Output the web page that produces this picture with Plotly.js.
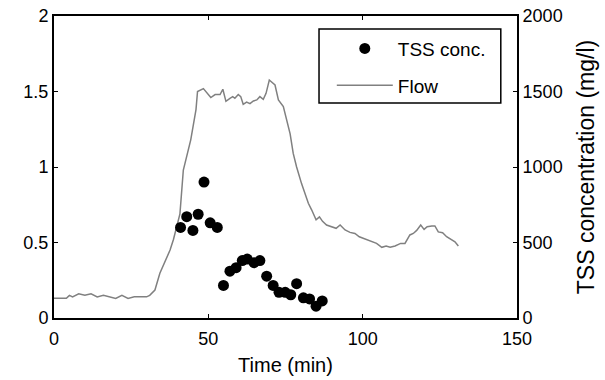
<!DOCTYPE html>
<html>
<head>
<meta charset="utf-8">
<script src="https://cdn.plot.ly/plotly-3.0.1.min.js"></script>
<style>body{margin:0;padding:0;background:#fff}#chart{width:605px;height:380px}</style>
</head>
<body>
<div id="chart"></div>
<script>
// Flow (left axis)
var flowTime = [0, 2, 4, 5, 6, 8, 10, 12, 14, 16, 18, 20, 22, 24, 26, 28, 30, 31, 32.7, 34.3, 36, 37.6, 38.7, 40.8, 41.9, 44.3, 46, 46.5, 48.4, 50.8, 52.2, 53.8, 54.7, 55.7, 57.0, 57.9, 58.6, 59.7, 60.5, 61.3, 62.4, 63.5, 64.6, 65.7, 66.7, 67.8, 68.7, 69.75, 71.6, 72.7, 74.3, 75.4, 76.5, 77.5, 78.6, 80.2, 81.3, 82.4, 83.5, 84.9, 86.0, 87.0, 88.3, 90.0, 91.4, 92.7, 94.3, 95.9, 97.5, 98.9, 100.2, 101.5, 102.9, 104.5, 106.2, 107.6, 108.9, 110.5, 112.3, 113.7, 115.3, 116.4, 117.5, 118.8, 119.9, 120.9, 122.4, 123.4, 124.5, 125.9, 127.2, 128.8, 129.9, 131.0];
var flowValue = [0.13, 0.13, 0.13, 0.15, 0.14, 0.16, 0.15, 0.16, 0.14, 0.15, 0.14, 0.13, 0.15, 0.13, 0.14, 0.14, 0.14, 0.15, 0.185, 0.296, 0.37, 0.45, 0.52, 0.69, 0.98, 1.18, 1.38, 1.5, 1.519, 1.46, 1.48, 1.48, 1.515, 1.435, 1.455, 1.466, 1.455, 1.48, 1.466, 1.415, 1.43, 1.42, 1.437, 1.444, 1.466, 1.448, 1.488, 1.576, 1.543, 1.444, 1.40, 1.31, 1.22, 1.09, 1.0, 0.89, 0.826, 0.76, 0.715, 0.65, 0.67, 0.64, 0.616, 0.605, 0.594, 0.616, 0.583, 0.567, 0.56, 0.538, 0.528, 0.516, 0.505, 0.494, 0.468, 0.477, 0.468, 0.477, 0.494, 0.494, 0.55, 0.56, 0.58, 0.616, 0.587, 0.605, 0.61, 0.61, 0.57, 0.565, 0.538, 0.516, 0.505, 0.477];

// TSS concentration (right axis, mg/l)
var tssTime = [41, 43, 45, 46.7, 48.6, 50.6, 52.9, 54.9, 57, 59, 61, 62.6, 64.8, 66.7, 68.9, 71, 72.9, 74.9, 76.7, 78.6, 80.8, 82.8, 84.9, 86.9];
var tssValue = [600, 671, 580, 687, 900, 630, 600, 216, 310, 333, 380, 390, 366, 380, 277, 216, 170, 170, 154, 227, 134, 126, 78, 113];

var leftTicks = [0, 0.5, 1, 1.5, 2];
var leftTickText = ['0', '0.5', '1', '1.5', '2'];
var rightTicks = [0, 500, 1000, 1500, 2000];
var xTicks = [0, 50, 100, 150];

var fam = 'Liberation Sans, Arial, sans-serif';
var tickFont = {family: fam, size: 18, color: '#000'};
var titleFont = {family: fam, size: 20, color: '#000'};

var traces = [
  {x: flowTime, y: flowValue, type: 'scatter', mode: 'lines', name: 'Flow',
   line: {color: '#808080', width: 1.5}, yaxis: 'y', legendrank: 2, legendgroup: 'b'},
  {x: tssTime, y: tssValue, type: 'scatter', mode: 'markers', name: 'TSS conc.',
   marker: {color: '#000', size: 11}, yaxis: 'y2', legendrank: 1, legendgroup: 'a'}
];

var layout = {
  width: 605, height: 380,
  margin: {l: 54, r: 88, t: 16, b: 62},
  paper_bgcolor: '#fff', plot_bgcolor: '#fff',
  font: tickFont,
  showlegend: true,
  legend: {x: 0.60, y: 0.955, xanchor: 'left', yanchor: 'top',
           borderwidth: 0, bgcolor: 'rgba(0,0,0,0)',
           font: {family: fam, size: 19, color: '#000'}, itemwidth: 56,
           tracegroupgap: 9},
  shapes: [{type: 'rect', xref: 'paper', yref: 'paper', x0: 0.5724, x1: 0.965, y0: 0.712, y1: 0.957,
            line: {color: '#000', width: 1.5}, layer: 'above'}],
  xaxis: {range: [0, 150], tickvals: xTicks, ticks: 'inside', ticklen: 4, tickcolor: '#000',
          showline: true, linecolor: '#000', linewidth: 2, mirror: 'ticks', showgrid: false, zeroline: false,
          ticklabelstandoff: 3,
          title: {text: 'Time (min)', font: titleFont, standoff: 10}, tickfont: tickFont},
  yaxis: {range: [0, 2], tickvals: leftTicks, ticktext: leftTickText, ticks: 'inside', ticklen: 4, tickcolor: '#000',
          showline: true, linecolor: '#000', linewidth: 2, showgrid: false, zeroline: false, tickfont: tickFont},
  yaxis2: {range: [0, 2000], tickvals: rightTicks, overlaying: 'y', side: 'right', ticks: 'inside', ticklen: 4, tickcolor: '#000',
           showline: true, linecolor: '#000', linewidth: 2, showgrid: false, zeroline: false, tickfont: tickFont,
           title: {text: 'TSS concentration (mg/l)', font: {family: fam, size: 23, color: '#000'}, standoff: 16}}
};

Plotly.newPlot('chart', traces, layout, {displayModeBar: false, staticPlot: true});
</script>
</body>
</html>
